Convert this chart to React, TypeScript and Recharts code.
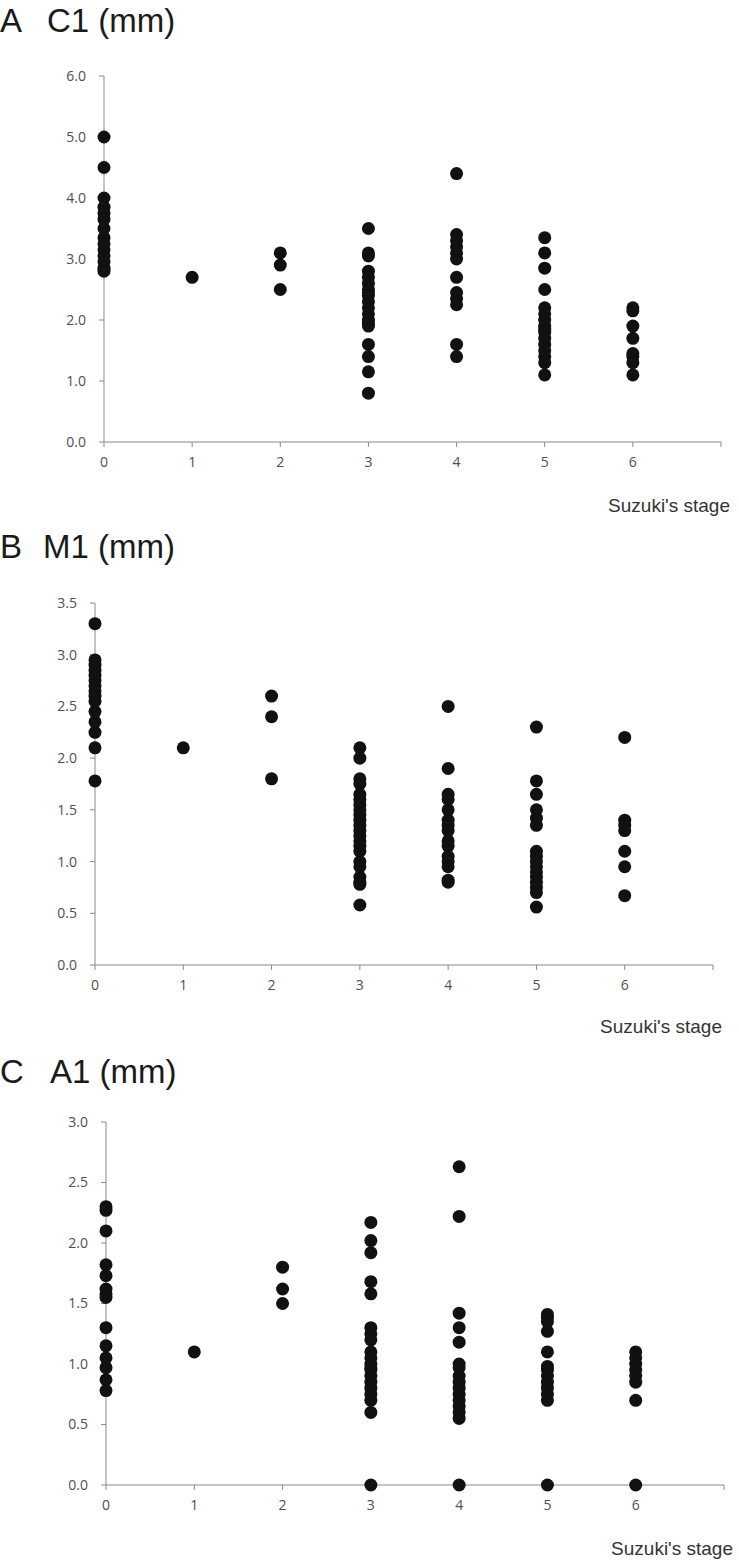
import { ScatterChart, Scatter, XAxis, YAxis, Label } from 'recharts';

// Suzuki's stage on the x axis; stage 7 only closes the axis
const stages = [0, 1, 2, 3, 4, 5, 6];
const xTicks = [0, 1, 2, 3, 4, 5, 6, 7];

// C1 diameter (mm), one list per stage
const c1Values: number[][] = [
  [5.0, 4.5, 4.0, 3.85, 3.75, 3.65, 3.5, 3.35, 3.25, 3.15, 3.05, 2.95, 2.85, 2.8],
  [2.7],
  [3.1, 2.9, 2.5],
  [3.5, 3.1, 3.05, 2.8, 2.7, 2.6, 2.5, 2.45, 2.4, 2.3, 2.2, 2.1, 2.0, 1.95, 1.9, 1.6, 1.4, 1.15, 0.8],
  [4.4, 3.4, 3.3, 3.2, 3.1, 3.0, 2.7, 2.45, 2.35, 2.25, 1.6, 1.4],
  [3.35, 3.1, 2.85, 2.5, 2.2, 2.1, 2.0, 1.9, 1.85, 1.8, 1.7, 1.6, 1.5, 1.4, 1.3, 1.1],
  [2.2, 2.15, 1.9, 1.7, 1.45, 1.4, 1.3, 1.1],
];

// M1 diameter (mm)
const m1Values: number[][] = [
  [3.3, 2.95, 2.9, 2.85, 2.8, 2.75, 2.7, 2.65, 2.6, 2.55, 2.45, 2.35, 2.25, 2.1, 1.78],
  [2.1],
  [2.6, 2.4, 1.8],
  [2.1, 2.0, 1.8, 1.75, 1.65, 1.6, 1.55, 1.5, 1.45, 1.4, 1.35, 1.3, 1.25, 1.2, 1.15, 1.1, 1.0, 0.95, 0.85, 0.8, 0.78, 0.58],
  [2.5, 1.9, 1.65, 1.6, 1.5, 1.4, 1.35, 1.3, 1.2, 1.15, 1.05, 1.0, 0.95, 0.82, 0.8],
  [2.3, 1.78, 1.65, 1.5, 1.42, 1.35, 1.1, 1.05, 1.0, 0.95, 0.9, 0.85, 0.8, 0.75, 0.7, 0.56],
  [2.2, 1.4, 1.35, 1.3, 1.1, 0.95, 0.67],
];

// A1 diameter (mm)
const a1Values: number[][] = [
  [2.3, 2.27, 2.1, 1.82, 1.73, 1.62, 1.58, 1.55, 1.3, 1.15, 1.05, 0.97, 0.87, 0.78],
  [1.1],
  [1.8, 1.62, 1.5],
  [2.17, 2.02, 1.92, 1.68, 1.58, 1.3, 1.25, 1.2, 1.1, 1.05, 1.0, 0.97, 0.95, 0.9, 0.85, 0.8, 0.75, 0.7, 0.6, 0.0],
  [2.63, 2.22, 1.42, 1.3, 1.18, 1.0, 0.97, 0.9, 0.85, 0.8, 0.75, 0.7, 0.65, 0.6, 0.55, 0.0],
  [1.41, 1.38, 1.35, 1.27, 1.1, 0.98, 0.95, 0.9, 0.85, 0.8, 0.75, 0.7, 0.0],
  [1.1, 1.05, 1.0, 0.95, 0.9, 0.85, 0.7, 0.0],
];

const c1Ticks = [0, 1, 2, 3, 4, 5, 6];
const m1Ticks = [0, 0.5, 1, 1.5, 2, 2.5, 3, 3.5];
const a1Ticks = [0, 0.5, 1, 1.5, 2, 2.5, 3];

const toPoints = (values: number[][]) =>
  values.flatMap((vals, s) => vals.map((v) => ({ x: stages[s], y: v })));

const AXIS = '#8a8a8a';
const TICK = { fill: '#4f4f4f', fontSize: 14, fontFamily: '"Open Sans", sans-serif' };

const Dot = (props: any) => <circle cx={props.cx} cy={props.cy} r={6.5} fill="#111" />;

function Panel({ letter, name, values, yTicks, top, height, margin, xAxisHeight, titleTop, nameLeft }: any) {
  const yMax = yTicks[yTicks.length - 1];
  return (
    <>
      <div
        style={{
          position: 'absolute',
          top: titleTop,
          left: 0,
          fontFamily: '"Liberation Sans", Arial, sans-serif',
          fontSize: 33,
          lineHeight: '33px',
          color: '#1a1a1a',
          whiteSpace: 'nowrap',
        }}
      >
        <span style={{ position: 'absolute', left: 0 }}>{letter}</span>
        <span style={{ position: 'absolute', left: nameLeft }}>{name}</span>
      </div>
      <div style={{ position: 'absolute', top, left: 0 }}>
        <ScatterChart width={739} height={height} margin={margin}>
          <XAxis
            type="number"
            dataKey="x"
            domain={[0, 7]}
            ticks={xTicks}
            tickFormatter={(v: number) => (v === 7 ? '' : String(v))}
            stroke={AXIS}
            tickSize={5}
            tickMargin={10}
            tick={TICK}
            height={xAxisHeight}
          >
            <Label
              value="Suzuki's stage"
              position="insideBottomRight"
              offset={-9}
              style={{ fill: '#333', fontSize: 19, fontFamily: '"Liberation Sans", Arial, sans-serif' }}
            />
          </XAxis>
          <YAxis
            type="number"
            dataKey="y"
            domain={[0, yMax]}
            ticks={yTicks}
            tickFormatter={(v: number) => v.toFixed(1)}
            stroke={AXIS}
            tickSize={5}
            tickMargin={13}
            tick={TICK}
            width={60}
          />
          <Scatter data={toPoints(values)} shape={Dot} isAnimationActive={false} />
        </ScatterChart>
      </div>
    </>
  );
}

export default function App() {
  return (
    <div style={{ position: 'absolute', left: 0, top: 0, width: 739, height: 1565, background: '#fff' }}>
      <Panel
        letter="A"
        name="C1 (mm)"
        nameLeft={47}
        values={c1Values}
        yTicks={c1Ticks}
        titleTop={4}
        top={0}
        height={525}
        margin={{ top: 76, right: 18, left: 44, bottom: 22 }}
        xAxisHeight={61}
      />
      <Panel
        letter="B"
        name="M1 (mm)"
        nameLeft={43}
        values={m1Values}
        yTicks={m1Ticks}
        titleTop={530}
        top={525}
        height={520}
        margin={{ top: 78, right: 26, left: 35, bottom: 21 }}
        xAxisHeight={59}
      />
      <Panel
        letter="C"
        name="A1 (mm)"
        nameLeft={50}
        values={a1Values}
        yTicks={a1Ticks}
        titleTop={1055}
        top={1045}
        height={520}
        margin={{ top: 77, right: 15, left: 46, bottom: 19 }}
        xAxisHeight={61}
      />
    </div>
  );
}
